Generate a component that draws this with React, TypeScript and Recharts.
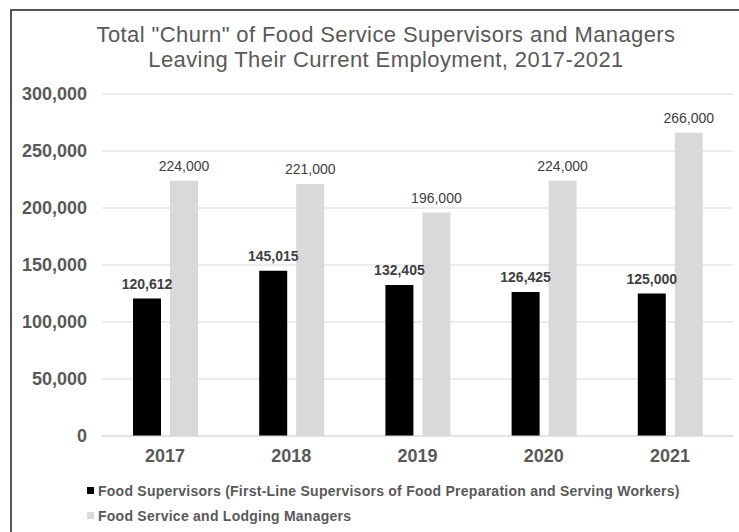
import { Bar, BarChart, CartesianGrid, LabelList, Legend, XAxis, YAxis } from 'recharts';

const years = ['2017', '2018', '2019', '2020', '2021'];
const supervisors = [120612, 145015, 132405, 126425, 125000];
const managers = [224000, 221000, 196000, 224000, 266000];
const yTicks = [0, 50000, 100000, 150000, 200000, 250000, 300000];

const supervisorsName =
  'Food Supervisors (First-Line Supervisors of Food Preparation and Serving Workers)';
const managersName = 'Food Service and Lodging Managers';

const FONT = '"Liberation Sans", Arial, sans-serif';
const TEXT = '#595959';

const fmt = (v: number) => v.toLocaleString('en-US');

function LegendBox() {
  const items = [
    { name: supervisorsName, color: '#000000' },
    { name: managersName, color: '#d9d9d9' },
  ];
  return (
    <div style={{ height: 50, paddingTop: 2, paddingLeft: 87, boxSizing: 'border-box' }}>
      {items.map((it) => (
        <div
          key={it.name}
          style={{
            display: 'flex',
            alignItems: 'center',
            height: 25,
            fontFamily: FONT,
            fontSize: 14,
            letterSpacing: 0.25,
            fontWeight: 'bold',
            color: TEXT,
          }}
        >
          <span style={{ width: 7, height: 7, background: it.color, marginRight: 4 }} />
          {it.name}
        </div>
      ))}
    </div>
  );
}

export default function App() {
  const data = years.map((year, i) => ({
    year,
    supervisors: supervisors[i],
    managers: managers[i],
  }));

  return (
    <div
      style={{
        position: 'absolute',
        left: 0,
        top: 0,
        width: 739,
        height: 532,
        overflow: 'hidden',
        background: '#ffffff',
      }}
    >
      <div
        style={{
          position: 'absolute',
          left: 10,
          top: 9,
          width: 800,
          height: 600,
          border: '2px solid #555555',
        }}
      />
      <div
        style={{
          position: 'absolute',
          left: 0,
          top: 22,
          width: 772,
          textAlign: 'center',
          fontFamily: FONT,
          fontSize: 22,
          letterSpacing: 0.4,
          lineHeight: '25px',
          color: TEXT,
        }}
      >
        Total "Churn" of Food Service Supervisors and Managers
        <br />
        Leaving Their Current Employment, 2017-2021
      </div>
      <div style={{ position: 'absolute', left: 0, top: 0 }}>
        <BarChart
          width={739}
          height={532}
          data={data}
          margin={{ top: 94, right: 6, left: 0, bottom: 6 }}
          barSize={28}
          barGap={9}
        >
          <CartesianGrid vertical={false} stroke="#d9d9d9" />
          <XAxis
            dataKey="year"
            height={40}
            tickSize={0}
            tickMargin={13}
            axisLine={{ stroke: '#d9d9d9' }}
            tickLine={false}
            tick={{ fill: TEXT, fontSize: 18, fontWeight: 'bold', fontFamily: FONT }}
          />
          <YAxis
            width={102}
            domain={[0, 300000]}
            ticks={yTicks}
            tickFormatter={fmt}
            tickSize={0}
            tickMargin={15}
            axisLine={false}
            tickLine={false}
            tick={{ fill: TEXT, fontSize: 18, fontWeight: 'bold', fontFamily: FONT }}
          />
          <Legend verticalAlign="bottom" content={() => <LegendBox />} />
          <Bar
            dataKey="supervisors"
            name={supervisorsName}
            fill="#000000"
            isAnimationActive={false}
          >
            <LabelList
              dataKey="supervisors"
              position="top"
              offset={10}
              formatter={(v: any) => fmt(Number(v))}
              style={{ fill: '#404040', fontSize: 14, fontWeight: 'bold', fontFamily: FONT }}
            />
          </Bar>
          <Bar dataKey="managers" name={managersName} fill="#d9d9d9" isAnimationActive={false}>
            <LabelList
              dataKey="managers"
              position="top"
              offset={10}
              formatter={(v: any) => fmt(Number(v))}
              style={{ fill: '#404040', fontSize: 14, fontFamily: FONT }}
            />
          </Bar>
        </BarChart>
      </div>
    </div>
  );
}
